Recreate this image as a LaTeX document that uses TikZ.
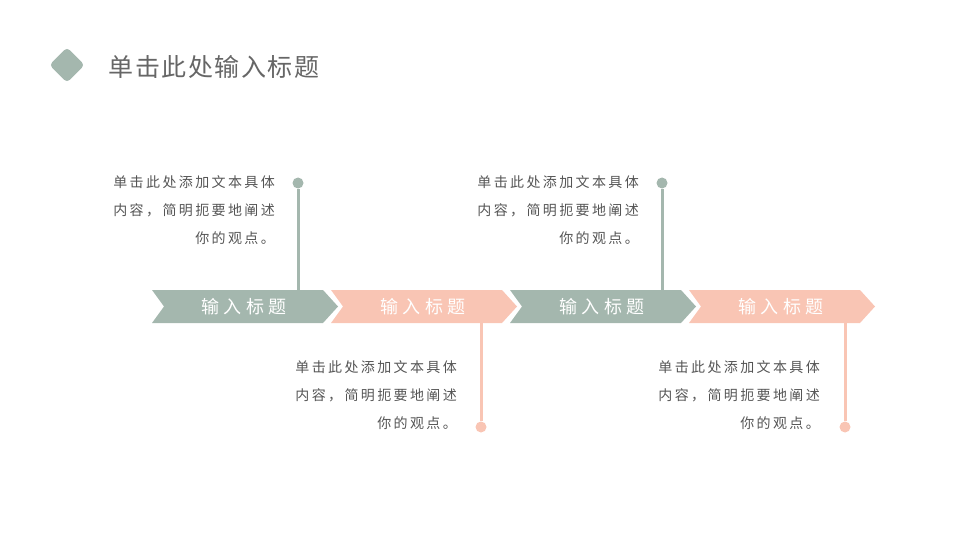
\documentclass[tikz,border=0pt]{standalone}
\usepackage{fontspec}
\newfontfamily\cjk{Noto Sans CJK SC}[Scale=1]
\newfontfamily\cjks{Noto Sans CJK SC}[LetterSpace=17]
\newfontfamily\cjkt{Noto Sans CJK SC}[LetterSpace=6]
\definecolor{gg}{HTML}{A4B7AE}
\definecolor{pk}{HTML}{F9C5B4}
\definecolor{tx}{HTML}{555555}
\begin{document}
\begin{tikzpicture}[x=1pt,y=-1pt,
  chev/.style={fill=#1,draw=none},
  body/.style={font=\cjks\fontsize{14}{28}\selectfont,text=tx,align=right,anchor=north east,inner sep=0pt},
  lbl/.style={font=\cjk\fontsize{18}{20}\selectfont,text=white},
  pin/.style={draw=#1,line width=3pt}]
\useasboundingbox (0,0) rectangle (960,548);
\node[fill=gg,rounded corners=4pt,minimum size=25pt,rotate=45] (dia) at (67,65) {};
\node[anchor=west,font=\cjkt\fontsize{25}{26}\selectfont,text=tx!90] (title) at (105,67) {单击此处输入标题};
\foreach \i/\x/\c in {1/152/gg,2/331/pk,3/510/gg,4/689/pk}{
  \fill[\c] (\x,290) -- (\x+171,290) -- (\x+186,306.5) -- (\x+171,323) -- (\x,323) -- (\x+12,306.5) -- cycle;
  \node[lbl] (c\i) at (\x+92,307) {输 入 标 题};
}
\foreach \n/\x/\c/\ya/\yb/\tx/\ty in {a/298/gg/183/290/275/175, b/481/pk/427/323/457/360, c/662/gg/183/290/639/175, d/845/pk/427/323/820/360}{
  \coordinate (e\n) at (\x,\yb);
  \node[circle,fill=\c,minimum size=11pt,inner sep=0pt] (p\n) at (\x,\ya) {};
  \draw[pin=\c] (p\n) -- (e\n);
  \node[body] (t\n) at (\tx,\ty) {单击此处添加文本具体\\内容，简明扼要地阐述\\你的观点。};
}
\end{tikzpicture}
\end{document}
